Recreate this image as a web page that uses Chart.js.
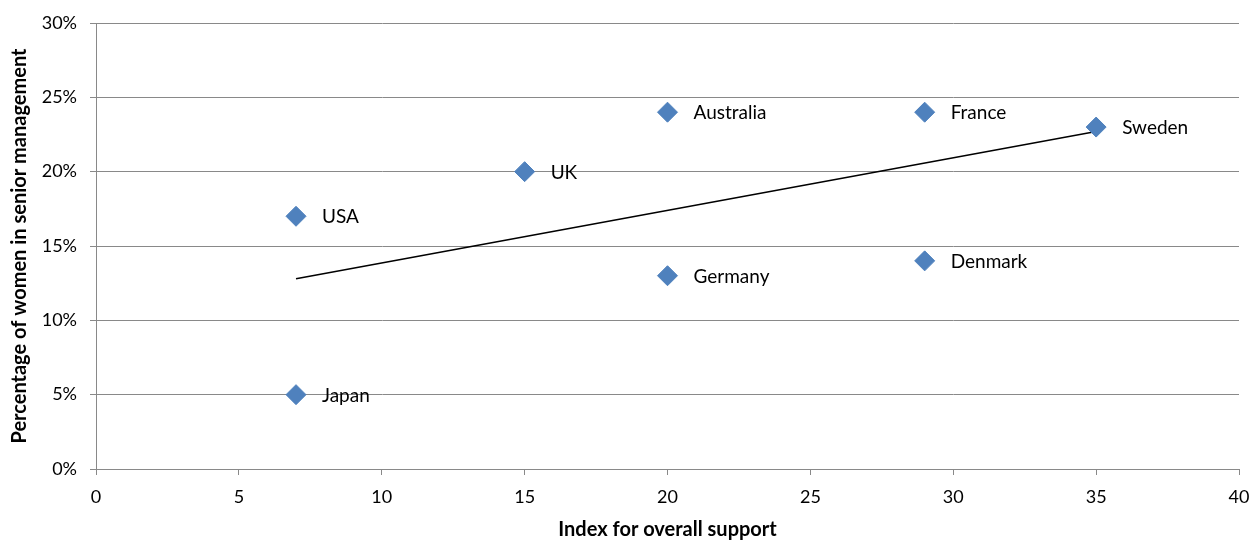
<!DOCTYPE html>
<html>
<head>
<meta charset="utf-8">
<script src="https://cdn.jsdelivr.net/npm/chart.js@4"></script>
<style>
  html, body { margin: 0; padding: 0; background: #ffffff; }
  #wrap { width: 1253px; height: 542px; position: relative; }
</style>
</head>
<body>
<div id="wrap"><canvas id="c"></canvas></div>
<script>
const countries = ["USA", "Japan", "UK", "Australia", "Germany", "France", "Denmark", "Sweden"];
const supportIndex = [7, 7, 15, 20, 20, 29, 29, 35];
const womenPct = [17, 5, 20, 24, 13, 24, 14, 23];
const trendX = [7, 35];
const trendY = [12.8, 22.7];
const xTicks = [0, 5, 10, 15, 20, 25, 30, 35, 40];
const yTicks = [0, 5, 10, 15, 20, 25, 30];

const FONT = "Lato, 'Open Sans', sans-serif";
const GRID = "#898989";

const labelPlugin = {
  id: "pointLabels",
  afterDatasetsDraw(chart) {
    const meta = chart.getDatasetMeta(0);
    const ctx = chart.ctx;
    ctx.save();
    ctx.font = "19px " + FONT;
    ctx.fillStyle = "#000000";
    ctx.textAlign = "left";
    ctx.textBaseline = "middle";
    meta.data.forEach((el, i) => {
      ctx.fillText(countries[i], el.x + 26, el.y + 1);
    });
    ctx.restore();
  }
};

new Chart(document.getElementById("c"), {
  type: "scatter",
  data: {
    datasets: [
      {
        label: "Countries",
        data: supportIndex.map((x, i) => ({ x: x, y: womenPct[i] })),
        pointStyle: "rectRot",
        pointRadius: 10,
        pointHoverRadius: 10,
        backgroundColor: "#4F81BD",
        borderColor: "#4F81BD",
        borderWidth: 1,
        order: 1
      },
      {
        type: "line",
        label: "Trend",
        data: trendX.map((x, i) => ({ x: x, y: trendY[i] })),
        borderColor: "#000000",
        borderWidth: 1.5,
        pointRadius: 0,
        fill: false,
        order: 2
      }
    ]
  },
  options: {
    responsive: true,
    maintainAspectRatio: false,
    animation: false,
    layout: { padding: { top: 23, right: 14, bottom: 0, left: 0 } },
    plugins: {
      legend: { display: false },
      tooltip: { enabled: false }
    },
    scales: {
      x: {
        type: "linear",
        min: 0,
        max: 40,
        afterBuildTicks(scale) { scale.ticks = xTicks.map(v => ({ value: v })); },
        afterFit(scale) {
          scale.height = 73;
          scale.paddingLeft = 0;
          scale.paddingRight = 0;
        },
        grid: { drawOnChartArea: false, drawTicks: true, tickLength: 6, color: GRID, lineWidth: 1 },
        border: { display: true, color: GRID, width: 1 },
        ticks: { font: { family: FONT, size: 18 }, color: "#000000", padding: 11 },
        title: {
          display: true,
          text: "Index for overall support",
          font: { family: FONT, size: 20, weight: "bold" },
          color: "#000000",
          padding: { top: 0, bottom: 0 }
        }
      },
      y: {
        type: "linear",
        min: 0,
        max: 30,
        afterBuildTicks(scale) { scale.ticks = yTicks.map(v => ({ value: v })); },
        afterFit(scale) {
          scale.width = 96;
          scale.paddingTop = 0;
          scale.paddingBottom = 0;
        },
        grid: { drawOnChartArea: true, drawTicks: true, tickLength: 6, color: GRID, lineWidth: 1 },
        border: { display: true, color: GRID, width: 1 },
        ticks: {
          font: { family: FONT, size: 18 },
          color: "#000000",
          padding: 13,
          callback: v => v + "%"
        },
        title: {
          display: true,
          text: "Percentage of women in senior management",
          font: { family: FONT, size: 20, weight: "bold" },
          color: "#000000",
          padding: { top: 8, bottom: 0 }
        }
      }
    }
  },
  plugins: [labelPlugin]
});
</script>
</body>
</html>
